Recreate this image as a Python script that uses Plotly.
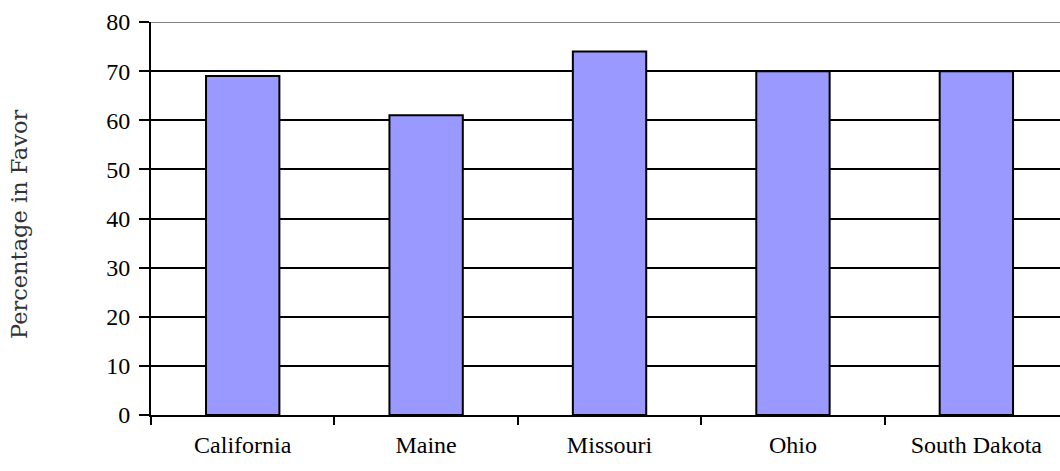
import plotly.graph_objects as go

states = ["California", "Maine", "Missouri", "Ohio", "South Dakota"]
pct_favor = [69, 61, 74, 70, 70]
y_ticks = [0, 10, 20, 30, 40, 50, 60, 70, 80]

SERIF = "'Liberation Serif', 'Times New Roman', serif"

fig = go.Figure()
fig.add_trace(go.Bar(
    x=states, y=pct_favor, width=0.4,
    marker=dict(color="#9999FF", line=dict(color="black", width=2)),
))

fig.update_layout(
    width=1060, height=471,
    margin=dict(l=151, r=0, t=22, b=56),
    paper_bgcolor="white", plot_bgcolor="white",
    showlegend=False,
    font=dict(family=SERIF, color="black"),
    xaxis=dict(
        type="category", range=[-0.5, 4.456],
        tickson="boundaries", ticks="outside", ticklen=8, tickwidth=2, tickcolor="black",
        showline=True, linecolor="black", linewidth=2, showgrid=False,
        tickfont=dict(family=SERIF, size=24, color="black"),
        ticklabelstandoff=7,
    ),
    yaxis=dict(
        range=[0, 80], tickvals=y_ticks,
        ticks="outside", ticklen=10, tickwidth=2, tickcolor="black",
        showline=True, linecolor="black", linewidth=2,
        showgrid=True, gridcolor="black", gridwidth=2,
        zeroline=False,
        tickfont=dict(family=SERIF, size=24, color="black"),
        ticklabelstandoff=4,
    ),
    shapes=[dict(type="line", xref="paper", yref="y", x0=0, x1=1, y0=80, y1=80,
                 line=dict(color="#808080", width=2))],
    annotations=[dict(text="Percentage in Favor", xref="paper", yref="paper",
                      x=-151/909 + 19/909, y=0.486, xanchor="center", yanchor="middle",
                      textangle=-90, showarrow=False,
                      font=dict(family="'DejaVu Serif', serif", size=22.5, color="#333333"))],
)

fig.write_html("out.html")
